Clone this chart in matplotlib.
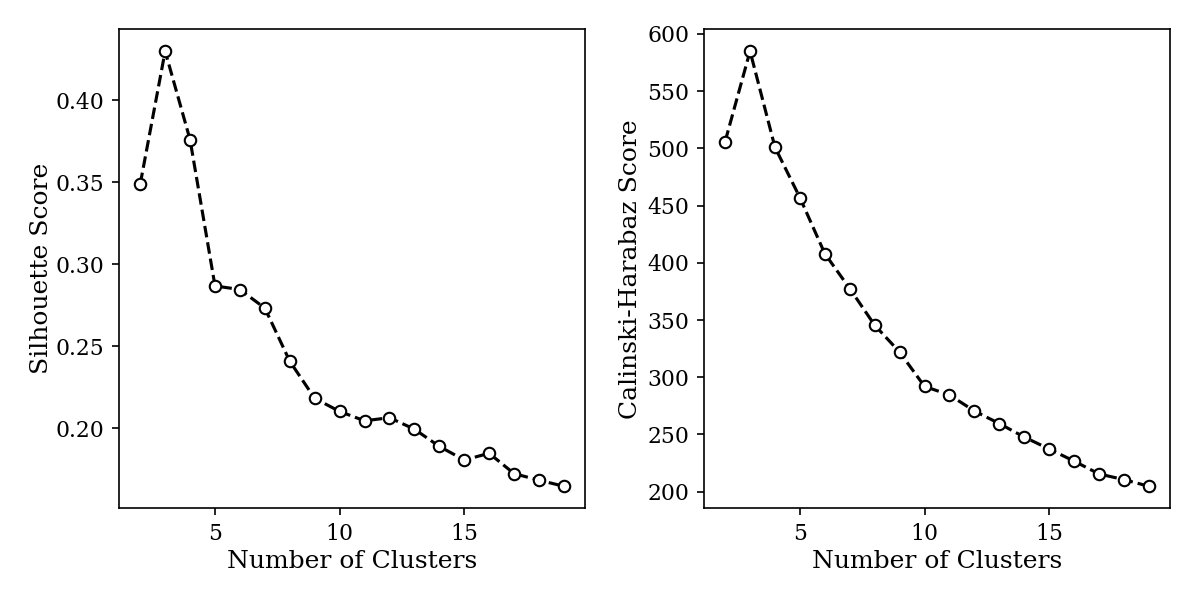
import matplotlib
matplotlib.use("Agg")
from matplotlib import pyplot as plt

n_clusters = list(range(2, 20))

silhouette = [0.3488, 0.4298, 0.3758, 0.2867, 0.2845, 0.2732, 0.2408, 0.2182,
              0.2102, 0.2045, 0.2064, 0.1994, 0.1889, 0.1806, 0.1847, 0.1723,
              0.1683, 0.1646]

calinski = [506, 585, 501, 457, 408, 377.5, 345.5, 322, 292, 284.5, 270.5, 259.5,
            247.7, 237.3, 226.7, 215.5, 210.5, 204.7]

plt.rcParams["font.family"] = "DejaVu Serif"

fig, axes = plt.subplots(1, 2, figsize=(8, 4), dpi=150)
fig.subplots_adjust(left=0.0992, right=0.975, bottom=0.1533, top=0.951, wspace=0.255)

style = dict(linestyle="--", color="black", marker="o",
             markerfacecolor="white", markeredgecolor="black", markersize=5.5)

axes[0].plot(n_clusters, silhouette, **style)
axes[0].set_xlabel("Number of Clusters", fontsize=12, labelpad=2.5)
axes[0].set_ylabel("Silhouette Score", fontsize=12, labelpad=1.5)

axes[1].plot(n_clusters, calinski, **style)
axes[1].set_xlabel("Number of Clusters", fontsize=12, labelpad=2.5)
axes[1].set_ylabel("Calinski-Harabaz Score", fontsize=12, labelpad=2.5)

for ax in axes:
    ax.tick_params(labelsize=10.5)
    ax.set_xticks([5, 10, 15])

fig.savefig("out.png", dpi=150)
